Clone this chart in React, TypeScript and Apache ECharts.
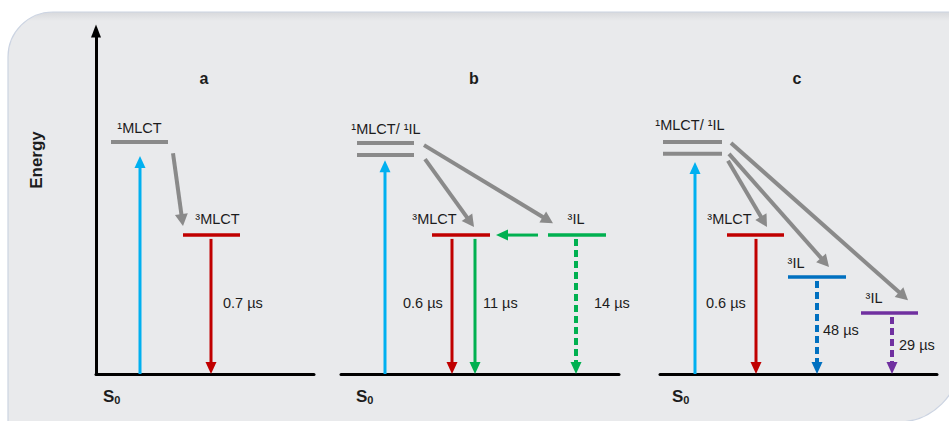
import React, { useEffect, useRef } from 'react';
import * as echarts from 'echarts';

// ---------------- data ----------------
const PANEL_NAMES = ['a', 'b', 'c'];
// horizontal extent (diagram units) of each panel's S0 axis
const PANEL_SPAN = [218, 278, 277];
const ENERGY_MAX = 98;

// Energy levels: [panel, xFrom, xTo, energy, state]
const LEVELS: [number, number, number, number, string][] = [
  [0, 15, 72, 66.3, 's1'],
  [0, 87, 144, 39.7, 'mlct3'],
  [1, 16, 73, 66.0, 's1'],
  [1, 16, 73, 62.6, 's1'],
  [1, 91, 149, 39.7, 'mlct3'],
  [1, 207, 265, 39.7, 'il3g'],
  [2, 3, 62, 66.3, 's1'],
  [2, 3, 62, 62.9, 's1'],
  [2, 67, 124, 39.7, 'mlct3'],
  [2, 128, 186, 27.7, 'il3b'],
  [2, 201, 258, 17.4, 'il3p'],
];

// Transitions: [panel, xFrom, eFrom, xTo, eTo, kind, dashed]
const TRANSITIONS: [number, number, number, number, number, string, boolean][] = [
  [0, 44, 0, 44, 62.3, 'abs', false],
  [0, 77, 63.1, 87, 42.3, 'isc', false],
  [0, 115, 38.6, 115, 0, 'mlct3', false],
  [1, 44, 0, 44, 61.1, 'abs', false],
  [1, 84, 61.4, 133, 42.0, 'isc', false],
  [1, 83, 65.4, 212, 43.1, 'isc', false],
  [1, 197, 39.7, 155, 39.7, 'il3g', false],
  [1, 111, 38.6, 111, 0, 'mlct3', false],
  [1, 134, 38.6, 134, 0, 'il3g', false],
  [1, 235, 38.6, 235, 0, 'il3g', true],
  [2, 35, 0, 35, 60.6, 'abs', false],
  [2, 68, 60.9, 107, 42.0, 'isc', false],
  [2, 69, 62.9, 169, 30.6, 'isc', false],
  [2, 71, 66.0, 248, 21.1, 'isc', false],
  [2, 96, 38.6, 96, 0, 'mlct3', false],
  [2, 157, 26.6, 157, 0, 'il3b', true],
  [2, 232, 16.3, 232, 0, 'il3p', true],
];

// State labels: [panel, x, energy, text]
const STATE_LABELS: [number, number, number, string][] = [
  [0, 43.5, 70.4, '¹MLCT'],
  [0, 121.5, 44.4, '³MLCT'],
  [1, 45, 70.0, '¹MLCT/ ¹IL'],
  [1, 93.5, 44.3, '³MLCT'],
  [1, 235, 44.3, '³IL'],
  [2, 30, 71.1, '¹MLCT/ ¹IL'],
  [2, 69.5, 44.3, '³MLCT'],
  [2, 136, 31.7, '³IL'],
  [2, 214, 21.7, '³IL'],
];

// Lifetime labels: [panel, xLeft, energy, text]
const LIFETIMES: [number, number, number, string][] = [
  [0, 127, 20.3, '0.7 µs'],
  [1, 62, 20.3, '0.6 µs'],
  [1, 142, 20.3, '11 µs'],
  [1, 253, 20.3, '14 µs'],
  [2, 46, 20.3, '0.6 µs'],
  [2, 163, 12.6, '48 µs'],
  [2, 239, 8.3, '29 µs'],
];

// Ground state label position per panel: [xLeft, energy]
const GROUND_POS: [number, number][] = [
  [7, -6.3],
  [15, -6.3],
  [12, -6.3],
];
// Panel title position per panel: [x, energy]
const TITLE_POS: [number, number][] = [
  [108, 84.3],
  [133, 84.3],
  [137, 84.3],
];

// ---------------- styles ----------------
const COLORS: Record<string, string> = {
  s1: '#8a8a8a',
  isc: '#8a8a8a',
  abs: '#00b0f0',
  mlct3: '#c00000',
  il3g: '#00b050',
  il3b: '#0070c0',
  il3p: '#7030a0',
};
const FONT = '"Liberation Sans", Arial, sans-serif';
const TEXT_COLOR = '#1c1c1c';
const GRID_LEFT = [96, 341, 660];
const GRID_TOP = 31;
const GRID_BOTTOM = 47;

function buildOption() {
  const grids = PANEL_NAMES.map((_, p) => ({
    left: GRID_LEFT[p],
    width: PANEL_SPAN[p],
    top: GRID_TOP,
    bottom: GRID_BOTTOM,
    containLabel: false,
  }));
  const xAxes = PANEL_NAMES.map((_, p) => ({
    type: 'value',
    gridIndex: p,
    min: 0,
    max: PANEL_SPAN[p],
    axisLine: { show: true, onZero: false, lineStyle: { color: '#000', width: 3 } },
    axisTick: { show: false },
    axisLabel: { show: false },
    splitLine: { show: false },
  }));
  const yAxes = PANEL_NAMES.map((_, p) => ({
    type: 'value',
    gridIndex: p,
    min: 0,
    max: ENERGY_MAX,
    axisLine: {
      show: p === 0,
      onZero: false,
      symbol: ['none', 'triangle'],
      symbolSize: [10, 13],
      lineStyle: { color: '#000', width: 3 },
    },
    axisTick: { show: false },
    axisLabel: { show: false },
    splitLine: { show: false },
  }));

  const series: any[] = [];
  PANEL_NAMES.forEach((name, p) => {
    const lv = LEVELS.filter((l) => l[0] === p);
    series.push({
      type: 'custom',
      xAxisIndex: p,
      yAxisIndex: p,
      z: 3,
      data: lv.map((l) => [l[1], l[3], l[2]]),
      renderItem: (params: any, api: any) => {
        const l = lv[params.dataIndex];
        const a = api.coord([api.value(0), api.value(1)]);
        const b = api.coord([api.value(2), api.value(1)]);
        return {
          type: 'line',
          shape: { x1: a[0], y1: a[1], x2: b[0], y2: b[1] },
          style: { stroke: COLORS[l[4]], lineWidth: l[4] === 's1' ? 4 : 3.5 },
        };
      },
    });

    const tr = TRANSITIONS.filter((t) => t[0] === p);
    series.push({
      type: 'custom',
      xAxisIndex: p,
      yAxisIndex: p,
      z: 4,
      data: tr.map((t) => [t[1], t[2], t[3], t[4]]),
      renderItem: (params: any, api: any) => {
        const t = tr[params.dataIndex];
        const kind = t[5];
        const dashed = t[6];
        const color = COLORS[kind];
        const p0 = api.coord([api.value(0), api.value(1)]);
        const p1 = api.coord([api.value(2), api.value(3)]);
        const dx = p1[0] - p0[0];
        const dy = p1[1] - p0[1];
        const len = Math.hypot(dx, dy);
        const ux = dx / len;
        const uy = dy / len;
        const isc = kind === 'isc';
        const lw = isc ? 4 : dashed ? 4 : 3;
        const hl = isc ? 12 : 12;
        const hw = isc ? 13 : 11;
        const bx = p1[0] - ux * hl;
        const by = p1[1] - uy * hl;
        const nx = -uy;
        const ny = ux;
        return {
          type: 'group',
          children: [
            {
              type: 'line',
              shape: { x1: p0[0], y1: p0[1], x2: bx + ux, y2: by + uy },
              style: { stroke: color, lineWidth: lw, lineDash: dashed ? [7, 4] : null },
            },
            {
              type: 'polygon',
              shape: {
                points: [
                  [p1[0], p1[1]],
                  [bx + (nx * hw) / 2, by + (ny * hw) / 2],
                  [bx - (nx * hw) / 2, by - (ny * hw) / 2],
                ],
              },
              style: { fill: color },
            },
          ],
        };
      },
    });

    const sl = STATE_LABELS.filter((s) => s[0] === p);
    const lt = LIFETIMES.filter((s) => s[0] === p);
    const texts: { x: number; e: number; kind: string; text: string }[] = [
      ...sl.map((s) => ({ x: s[1], e: s[2], kind: 'state', text: s[3] })),
      ...lt.map((s) => ({ x: s[1], e: s[2], kind: 'life', text: s[3] })),
      { x: GROUND_POS[p][0], e: GROUND_POS[p][1], kind: 'ground', text: '{s|S}{d|0}' },
      { x: TITLE_POS[p][0], e: TITLE_POS[p][1], kind: 'title', text: name },
    ];
    series.push({
      type: 'custom',
      xAxisIndex: p,
      yAxisIndex: p,
      z: 5,
      clip: false,
      data: texts.map((t) => [t.x, t.e]),
      renderItem: (params: any, api: any) => {
        const t = texts[params.dataIndex];
        const c = api.coord([api.value(0), api.value(1)]);
        const style: any = {
          text: t.text,
          fill: TEXT_COLOR,
          align: t.kind === 'life' || t.kind === 'ground' ? 'left' : 'center',
          verticalAlign: 'middle',
          fontFamily: 'Liberation Sans, Arial, sans-serif',
          fontSize: 14.5,
        };
        if (t.kind === 'title') {
          style.fontSize = 16;
          style.fontWeight = 'bold';
        }
        if (t.kind === 'ground') {
          style.rich = {
            s: { fontSize: 17, fontWeight: 'bold', lineHeight: 18, fill: TEXT_COLOR, fontFamily: 'Liberation Sans, Arial, sans-serif' },
            d: { fontSize: 11, fontWeight: 'bold', lineHeight: 11, verticalAlign: 'bottom', fill: TEXT_COLOR, fontFamily: 'Liberation Sans, Arial, sans-serif' },
          };
        }
        return { type: 'text', x: c[0], y: c[1], style };
      },
    });
  });

  return {
    animation: false,
    grid: grids,
    xAxis: xAxes,
    yAxis: yAxes,
    graphic: [
      {
        type: 'rect',
        z: -10,
        shape: { x: 8, y: 12, width: 952, height: 410, r: [45, 0, 62, 0] },
        style: {
          fill: new echarts.graphic.LinearGradient(0, 0, 0, 1, [
            { offset: 0, color: '#d8d9dc' },
            { offset: 0.022, color: '#e9eaec' },
            { offset: 1, color: '#e9eaec' },
          ]),
          stroke: '#ccd4e2',
          lineWidth: 1.2,
        },
      },
      {
        type: 'text',
        z: 10,
        x: 36,
        y: 160,
        rotation: Math.PI / 2,
        style: {
          text: 'Energy',
          fill: TEXT_COLOR,
          font: 'bold 17px ' + FONT,
          align: 'center',
          verticalAlign: 'middle',
        },
      },
    ],
    series,
  };
}

export default function App() {
  const ref = useRef<HTMLDivElement>(null);
  useEffect(() => {
    if (!ref.current) return;
    const chart = echarts.init(ref.current, undefined, { renderer: 'svg' });
    chart.setOption(buildOption() as any);
    return () => chart.dispose();
  }, []);
  return (
    <div
      ref={ref}
      style={{ position: 'absolute', left: 0, top: 0, width: 949, height: 421, background: '#fff' }}
    />
  );
}
